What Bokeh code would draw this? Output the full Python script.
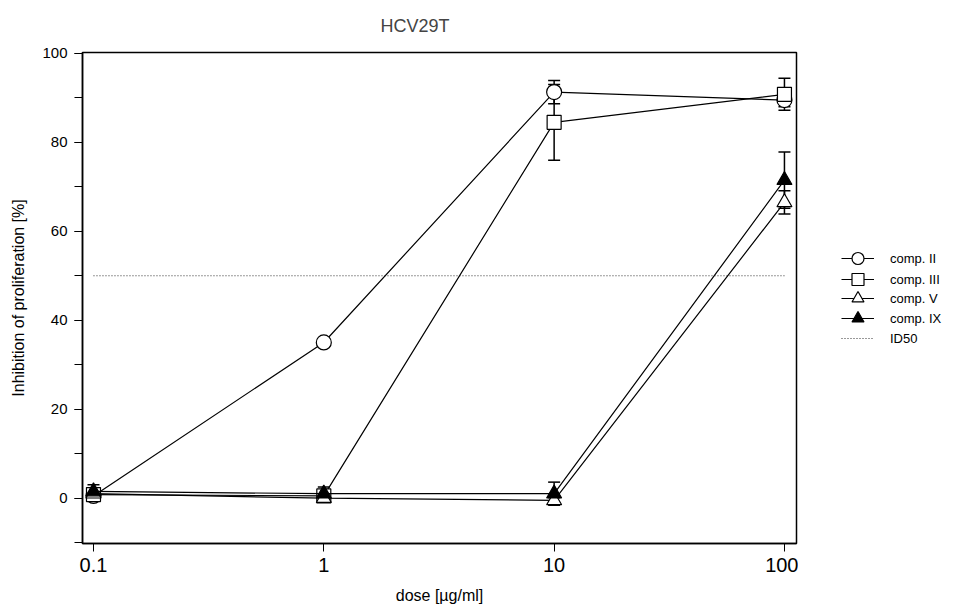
from bokeh.plotting import figure
from bokeh.layouts import row
from bokeh.models import (ColumnDataSource, Range1d, FixedTicker, SingleIntervalTicker,
                          CustomJSTickFormatter, Whisker, TeeHead, Legend, LegendItem)
from bokeh.embed import file_html
from bokeh.resources import INLINE

# ---- data ----
doses = [0.1, 1, 10, 100]
comp_II = [0.5, 35.0, 91.3, 89.5]
comp_II_err = [0.5, 0.8, 2.6, 1.5]
comp_III = [0.8, 0.5, 84.5, 90.8]
comp_III_err = [1.0, 0.5, 8.5, 3.6]
comp_V = [1.0, 0.0, -0.5, 66.5]
comp_V_err = [0.8, 0.5, 0.6, 2.6]
comp_IX = [1.5, 1.0, 1.0, 71.5]
comp_IX_err = [1.5, 1.5, 2.6, 6.3]
id50_x = [0.1, 100]
id50_y = [50, 50]
x_ticks = [0.1, 1, 10, 100]

FONT = "Liberation Sans"

p = figure(width=798, height=608, x_axis_type="log",
           x_range=Range1d(0.0896, 112.8), y_range=Range1d(-10.2, 100.2),
           output_backend="svg", toolbar_location=None,
           frame_width=714, frame_height=491,
           min_border_left=82, min_border_top=52, min_border_bottom=10,
           min_border_right=2,
           title="HCV29T")

p.title.text_font = FONT
p.title.text_font_size = "18px"
p.title.text_font_style = "normal"
p.title.align = "left"
p.title.offset = 298
p.title.vertical_align = "top"
p.title.standoff = 30

p.grid.visible = False
p.outline_line_color = "black"
p.outline_line_width = 1.5
p.outline_line_alpha = 1.0

# axes
xa = p.xaxis[0]
xa.ticker = FixedTicker(ticks=x_ticks, minor_ticks=[])
xa.formatter = CustomJSTickFormatter(code="return tick.toString();")
xa.major_label_text_font = FONT
xa.major_label_text_font_size = "20px"
xa.major_tick_out = 8
xa.major_tick_in = 0
xa.minor_tick_out = 0
xa.minor_tick_in = 0
xa.major_label_standoff = 6
xa.axis_label = "dose [µg/ml]"
xa.axis_label_text_font = FONT
xa.axis_label_text_font_size = "16px"
xa.axis_label_text_font_style = "normal"
xa.axis_label_standoff = 12
xa.axis_line_width = 1.5

ya = p.yaxis[0]
ya.ticker = SingleIntervalTicker(interval=20, num_minor_ticks=2)
ya.major_label_text_font = FONT
ya.major_label_text_font_size = "15px"
ya.major_tick_out = 8
ya.major_tick_in = 0
ya.minor_tick_out = 8
ya.minor_tick_in = 0
ya.major_label_standoff = 7
ya.axis_label = "Inhibition of proliferation [%]"
ya.axis_label_text_font = FONT
ya.axis_label_text_font_size = "16px"
ya.axis_label_text_font_style = "normal"
ya.axis_label_standoff = 12
ya.axis_line_width = 1.5

for ax in (xa, ya):
    ax.axis_line_color = "black"
    ax.major_tick_line_color = "black"
    ax.minor_tick_line_color = "black"
    ax.major_label_text_color = "black"
    ax.axis_label_text_color = "black"

# ID50 reference line
ID50_STYLE = dict(line_color="#333333", line_width=1, line_dash="1 2")
p.line(id50_x, id50_y, **ID50_STYLE)

series = [
    ("comp. II", comp_II, comp_II_err, "circle", "white", 15),
    ("comp. III", comp_III, comp_III_err, "square", "white", 14),
    ("comp. V", comp_V, comp_V_err, "triangle", "white", 15),
    ("comp. IX", comp_IX, comp_IX_err, "triangle", "black", 15),
]

sources = []
for label, vals, errs, marker, fill, size in series:
    src = ColumnDataSource(dict(
        x=doses, y=vals,
        upper=[v + e for v, e in zip(vals, errs)],
        lower=[v - e for v, e in zip(vals, errs)],
    ))
    sources.append(src)
    p.line("x", "y", source=src, line_color="black", line_width=1.2)
    p.scatter("x", "y", source=src, marker=marker, size=size,
              fill_color=fill, line_color="black", line_width=1.2)
    w = Whisker(source=src, base="x", upper="upper", lower="lower", dimension="height",
                line_color="black", line_width=1.5,
                upper_head=TeeHead(size=12, line_color="black", line_width=1.5),
                lower_head=TeeHead(size=12, line_color="black", line_width=1.5))
    p.add_layout(w)

# ---- legend panel (separate, axis-less figure to the right of the chart) ----
lp = figure(width=151, height=608, x_range=Range1d(0, 1), y_range=Range1d(0, 1),
            output_backend="svg", toolbar_location=None,
            frame_width=151, frame_height=608, min_border=0)
lp.axis.visible = False
lp.grid.visible = False
lp.outline_line_color = None

# hidden proxy renderers (same data, not drawn) that only supply legend glyphs
items = []
for (label, vals, errs, marker, fill, size), src in zip(series, sources):
    lr = lp.line("x", "y", source=src, line_color="black", line_width=1.2, visible=False)
    sr = lp.scatter("x", "y", source=src, marker=marker,
                    fill_color=fill, line_color="black", line_width=1.2, visible=False)
    items.append(LegendItem(label=label, renderers=[lr, sr]))
ir = lp.line(id50_x, id50_y, visible=False, **ID50_STYLE)
items.append(LegendItem(label="ID50", renderers=[ir]))

legend_y = [335, 314, 295, 275, 255]
for item, ly in zip(items, legend_y):
    lg = Legend(items=[item], location=(43, ly), orientation="vertical",
                border_line_color=None, background_fill_alpha=0,
                label_text_font=FONT, label_text_font_size="13px",
                label_text_color="black",
                glyph_width=33, glyph_height=30, label_height=19,
                label_standoff=16, spacing=0, padding=5, margin=0,
                click_policy="none", inactive_fill_alpha=0)
    lp.add_layout(lg)

layout = row(p, lp, spacing=0)
open("out.html", "w").write(file_html(layout, INLINE))
